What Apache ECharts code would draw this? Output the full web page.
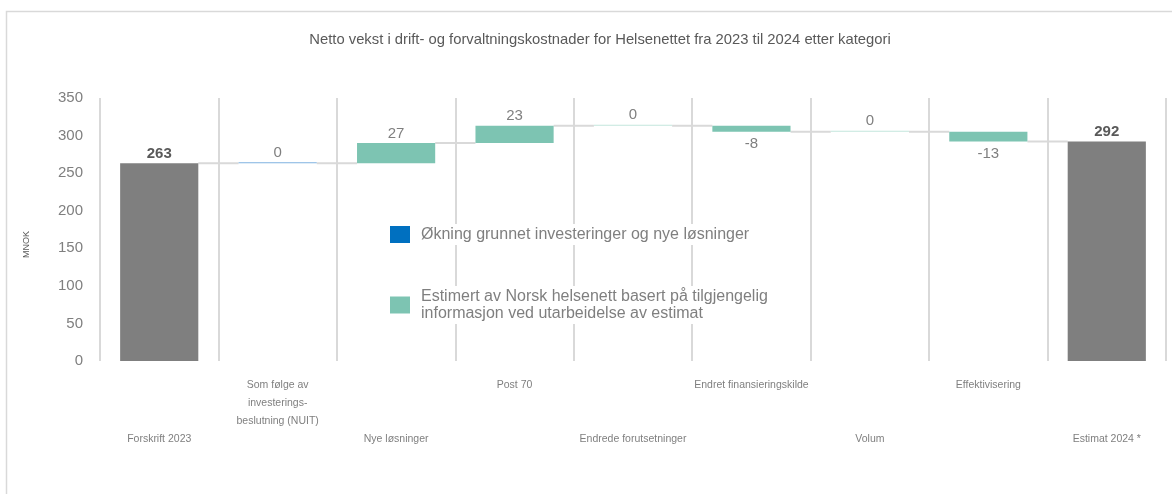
<!DOCTYPE html>
<html>
<head>
<meta charset="utf-8">
<script src="https://cdn.jsdelivr.net/npm/echarts@6/dist/echarts.min.js"></script>
<style>
html,body{margin:0;padding:0;background:#fff;}
#chart{width:1172px;height:494px;}
</style>
</head>
<body>
<div id="chart"></div>
<script>
// ---- data ----
const titleText = 'Netto vekst i drift- og forvaltningskostnader for Helsenettet fra 2023 til 2024 etter kategori';
const categories = ['Forskrift 2023', 'Som følge av\ninvesterings-\nbeslutning (NUIT)', 'Nye løsninger', 'Post 70',
  'Endrede forutsetninger', 'Endret finansieringskilde', 'Volum', 'Effektivisering', 'Estimat 2024 *'];
const totals = [263, null, null, null, null, null, null, null, 292];
const investChanges = [null, 0, null, null, null, null, null, null, null];
const estimatedChanges = [null, null, 27, 23, 0, -8, 0, -13, null];
const seriesNames = ['Økning grunnet investeringer og nye løsninger',
  'Estimert av Norsk helsenett basert på tilgjengelig\ninformasjon ved utarbeidelse av estimat'];
const yTicks = [0, 50, 100, 150, 200, 250, 300, 350];

// ---- build waterfall ----
const n = categories.length;
const changeAt = i => investChanges[i] != null ? investChanges[i] : estimatedChanges[i];
const levels = [];
for (let i = 0; i < n; i++) {
  if (totals[i] != null) levels[i] = totals[i];
  else levels[i] = levels[i - 1] + changeAt(i);
}
const baseData = categories.map((c, i) => {
  if (totals[i] != null) return '-';
  return Math.min(levels[i - 1], levels[i]);
});
function changeData(arr, zeroColor) {
  return arr.map((v, i) => {
    if (v == null) return '-';
    return {
      value: Math.abs(v),
      itemStyle: v === 0 ? { color: zeroColor } : undefined,
      label: v < 0 ? { position: 'bottom', distance: 5 } : { position: 'top', distance: 2 }
    };
  });
}
const connectorData = [];
for (let i = 0; i < n - 1; i++) connectorData.push([i, levels[i]]);

const FONT = '"Liberation Sans", Arial, sans-serif';
const BW = 0.66;

const chart = echarts.init(document.getElementById('chart'));
chart.setOption({
  animation: false,
  textStyle: { fontFamily: FONT },
  title: {
    text: titleText, left: 595, top: 27, textAlign: 'center',
    textStyle: { fontSize: 14.8, fontWeight: 'normal', color: '#595959', fontFamily: FONT }
  },
  graphic: [{
    type: 'rect', silent: true, z: -10,
    shape: { x: 6.5, y: 11.5, width: 1300, height: 600 },
    style: { fill: 'none', stroke: '#d9d9d9', lineWidth: 1.5 }
  }],
  legend: [{
    data: [seriesNames[0]], left: 386, top: 224, orient: 'vertical',
    icon: 'rect', itemWidth: 20, itemHeight: 17, selectedMode: false,
    backgroundColor: '#fff', padding: [2, 4, 2, 4],
    textStyle: { fontSize: 16, color: '#7f7f7f', padding: [0, 0, 0, 6], fontFamily: FONT }
  }, {
    data: [seriesNames[1]], left: 386, top: 286, orient: 'vertical',
    icon: 'rect', itemWidth: 20, itemHeight: 17, selectedMode: false,
    backgroundColor: '#fff', padding: [2, 4, 2, 4],
    textStyle: { fontSize: 16, lineHeight: 17, color: '#7f7f7f', padding: [0, 0, 0, 6], fontFamily: FONT }
  }],
  grid: { left: 100, right: 6, top: 98, bottom: 133, containLabel: false },
  xAxis: {
    type: 'category', data: categories,
    axisLine: { show: false }, axisTick: { show: false },
    splitLine: { show: true, lineStyle: { color: '#d9d9d9', width: 2 } },
    axisLabel: {
      interval: 0, margin: 15, fontSize: 10.5, lineHeight: 18, color: '#7f7f7f',
      formatter: (v, i) => i % 2 === 1 ? v : '\n\n\n' + v
    }
  },
  yAxis: {
    type: 'value', min: yTicks[0], max: yTicks[yTicks.length - 1], interval: 50,
    name: 'MNOK', nameLocation: 'middle', nameRotate: 90, nameGap: 69,
    nameTextStyle: { fontSize: 9, color: '#595959', padding: [0, 30, 0, 0] },
    axisLine: { show: false }, axisTick: { show: false }, splitLine: { show: false },
    axisLabel: { fontSize: 15, color: '#7f7f7f', margin: 17, padding: [3, 0, 0, 0] }
  },
  series: [{
    type: 'bar', name: 'base', stack: 'w', barWidth: (BW * 100) + '%',
    itemStyle: { color: 'transparent' }, data: baseData, silent: true
  }, {
    type: 'bar', name: 'total', stack: 'w', barWidth: (BW * 100) + '%',
    itemStyle: { color: '#7f7f7f' },
    label: { show: true, position: 'top', distance: 2, fontSize: 15, fontWeight: 'bold', color: '#595959' },
    data: totals.map(v => v == null ? '-' : v)
  }, {
    type: 'bar', name: seriesNames[0], stack: 'w', barWidth: (BW * 100) + '%', barMinHeight: 1,
    itemStyle: { color: '#0070C0' },
    label: { show: true, fontSize: 15, color: '#7f7f7f', formatter: p => String(investChanges[p.dataIndex]) },
    data: changeData(investChanges, '#7fb2e0')
  }, {
    type: 'bar', name: seriesNames[1], stack: 'w', barWidth: (BW * 100) + '%', barMinHeight: 1,
    itemStyle: { color: '#7DC4B2' },
    label: { show: true, fontSize: 15, color: '#7f7f7f', formatter: p => String(estimatedChanges[p.dataIndex]) },
    data: changeData(estimatedChanges, '#c3e6dc')
  }, {
    type: 'custom', name: 'connectors', silent: true, z: 1,
    data: connectorData,
    encode: { x: 0, y: 1 },
    renderItem: (params, api) => {
      const i = api.value(0), v = api.value(1);
      const p = api.coord([i, v]);
      const q = api.coord([i + 1, v]);
      const bw = api.size([1, 0])[0] * BW;
      return {
        type: 'line',
        shape: { x1: p[0] + bw / 2, y1: p[1], x2: q[0] - bw / 2, y2: p[1] },
        style: { stroke: '#d9d9d9', lineWidth: 2 }
      };
    }
  }]
});
</script>
</body>
</html>
